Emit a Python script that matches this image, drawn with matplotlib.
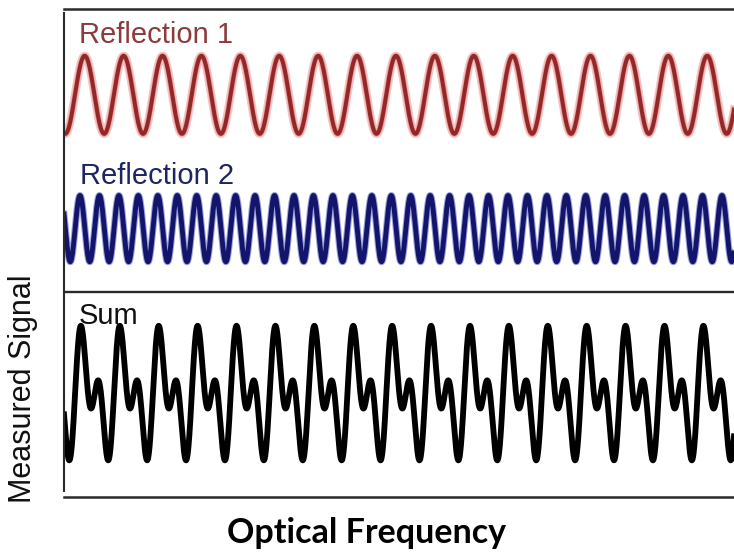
import numpy as np
import matplotlib.pyplot as plt

# x axis is measured in fringe periods of reflection 1
freq_span = 17.22
r1_cycles = 1.0          # fringes per unit for reflection 1
r2_cycles = 2.0          # reflection 2 beats twice as fast
r1_peak = 0.532          # phase of first maximum
r2_peak = 0.411
r2_amp = 0.85            # drawn amplitude of reflection 2 relative to 1

# vertical stacking of the traces
r1_offset = 10.31
r2_offset = 6.88
sum_offset = 2.65
sum_scale = 0.98
split_y = 5.26
y_top = 12.51

labels = ["Reflection 1", "Reflection 2", "Sum"]
label_colors = ["#8c3a3a", "#1d2562", "#111111"]

W, H = 734, 558
fig = plt.figure(figsize=(W / 100, H / 100), dpi=100)
ax = fig.add_axes([64 / W, 1 - 497 / H, (W - 64) / W, 488 / H])

nu = np.linspace(0, freq_span, 4000)
r1 = np.cos(2 * np.pi * r1_cycles * (nu - r1_peak))
r2 = np.cos(2 * np.pi * r2_cycles * (nu - r2_peak))
total = r1 + r2

# reflection 1: dark red with soft pink halo
ax.plot(nu, r1_offset + r1, color="#f6c4c4", lw=6.0)
ax.plot(nu, r1_offset + r1, color="#e58a8a", lw=4.0, alpha=0.6)
ax.plot(nu, r1_offset + r1, color="#922828", lw=2.9)
# reflection 2: navy with blue fringe
ax.plot(nu, r2_offset + r2_amp * r2, color="#3f48b8", lw=5.0, alpha=0.5)
ax.plot(nu, r2_offset + r2_amp * r2, color="#12156a", lw=3.5)
# interference of the two
ax.plot(nu, sum_offset + sum_scale * total, color="black", lw=4.2)

ax.set_xlim(0, freq_span)
ax.set_ylim(0, y_top)
ax.set_xticks([])
ax.set_yticks([])

for side in ["left", "right"]:
    ax.spines[side].set_visible(False)
for side in ["top", "bottom"]:
    ax.spines[side].set_linewidth(1.8)
    ax.spines[side].set_color("#2a2a2a")

ax.axvline(0, ymin=0.012, ymax=0.992, color="#2a2a2a", lw=1.5, clip_on=False)
ax.axhline(split_y, color="#2a2a2a", lw=1.7)

label_pos = [(79, 43), (80, 184.5), (79, 323.5)]
for text, c, (px, py) in zip(labels, label_colors, label_pos):
    fig.text(px / W, 1 - py / H, text, fontsize=21, color=c,
             family="Liberation Sans", va="baseline")

fig.text(23 / W, 1 - 389 / H, "Measured Signal", rotation=90, ha="center",
         va="center", fontsize=22, family="Liberation Sans", color="#111111")
fig.text(366.5 / W, 1 - 543 / H, "Optical Frequency", ha="center",
         va="baseline", fontsize=24.5, family="Lato", weight="bold", color="black")

fig.savefig("out.png", dpi=100)
